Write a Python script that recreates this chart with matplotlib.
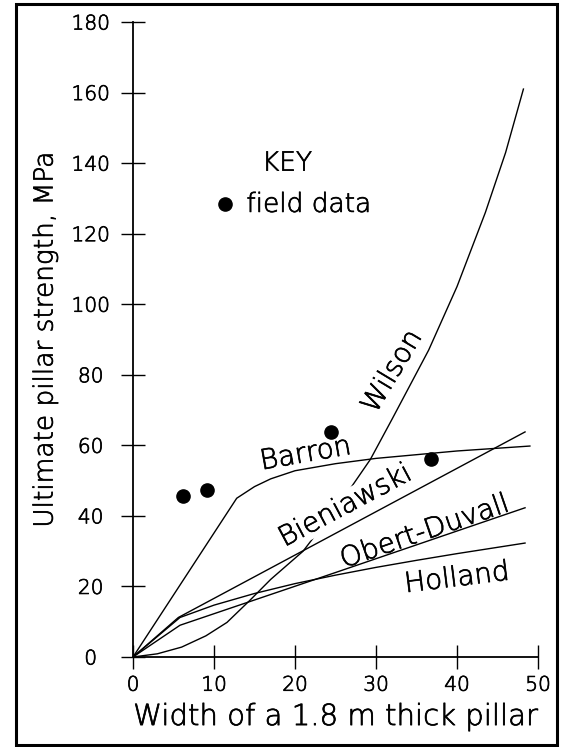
import numpy as np
import matplotlib.pyplot as plt
import matplotlib.patheffects as pe
from matplotlib.patches import Rectangle

plt.rcParams['font.family'] = ['DejaVu Sans']
plt.rcParams['font.weight'] = 'light'
plt.rcParams['axes.labelweight'] = 'light'

# curves (x = pillar width, y = strength in MPa)
barron_x = [0, 12.8, 15, 17, 20, 25, 30, 40, 49]
barron_y = [0, 45.0, 48.3, 50.5, 52.8, 54.8, 56.3, 58.4, 59.8]

wilson_x = [0, 3, 6, 9, 11.6, 14.4, 17, 21, 26, 29.3, 32, 36.5, 40, 43.5, 46, 48.2]
wilson_y = [0, 0.9, 2.8, 6.0, 9.8, 16.0, 22.0, 30.0, 45.0, 56.0, 67.5, 87.0, 105, 126, 143, 161]

bien_x = [0, 5.6, 48.4]
bien_y = [0, 11.2, 63.8]

obert_x = [0, 5.8, 25.2, 48.4]
obert_y = [0, 9.0, 24.1, 42.3]

holland_x = [0, 5.8, 10, 15, 20, 25, 30, 35, 40, 48.4]
holland_y = [0, 11.2, 14.7, 18.0, 20.8, 23.2, 25.4, 27.4, 29.3, 32.3]

field_x = [6.2, 9.1, 24.4, 36.8]
field_y = [45.5, 47.2, 63.8, 56.1]

xticks = [0, 10, 20, 30, 40, 50]
yticks = [0, 20, 40, 60, 80, 100, 120, 140, 160, 180]

# thin black "pen" look for all lettering
pen = [pe.withStroke(linewidth=0.5, foreground='black')]

fig = plt.figure(figsize=(5.62, 7.47), dpi=100)
ax = fig.add_axes([0.2367, 0.1205, 0.7206, 0.85])

lw = 1.0
ax.plot(barron_x, barron_y, color='black', lw=lw)
ax.plot(wilson_x, wilson_y, color='black', lw=lw)
ax.plot(bien_x, bien_y, color='black', lw=lw)
ax.plot(obert_x, obert_y, color='black', lw=lw)
ax.plot(holland_x, holland_y, color='black', lw=lw)
ax.plot(field_x, field_y, 'o', color='black', ms=9.5)

# curve labels (white box hides the lines running under the text)
lab = dict(fontsize=20, color='black', ha='center', va='center', zorder=5,
           rotation_mode='anchor', path_effects=pen)
ax.text(21.3, 57.6, 'Barron', rotation=10, **lab)
ax.text(26.2, 42.9, 'Bieniawski', rotation=28,
        bbox=dict(facecolor='white', edgecolor='none', pad=0.1), **lab)
ax.text(32.0, 81.0, 'Wilson', rotation=59, **lab)
ax.text(36.0, 35.5, 'Obert-Duvall', rotation=19, **lab)
ax.text(40.0, 22.4, 'Holland', rotation=7, **lab)

# key
ax.text(19.0, 140.0, 'KEY', fontsize=19, ha='center', va='center', path_effects=pen)
ax.plot([11.4], [128.3], 'o', color='black', ms=9.5)
ax.text(14.0, 128.3, 'field data', fontsize=19, ha='left', va='center', path_effects=pen)

ax.set_xlim(0, 50)
ax.set_ylim(0, 180)
ax.spines['top'].set_visible(False)
ax.spines['right'].set_visible(False)
ax.spines['left'].set_linewidth(1.3)
ax.spines['bottom'].set_linewidth(1.3)
ax.set_xticks(xticks)
ax.set_yticks(yticks)
ax.tick_params(axis='both', direction='inout', length=17, width=1.0,
               labelsize=14.5, labelcolor='black')
ax.tick_params(axis='x', pad=5)
ax.tick_params(axis='y', pad=22)
for t in ax.get_yticklabels():
    t.set_horizontalalignment('center')
for t in ax.get_xticklabels() + ax.get_yticklabels():
    t.set_path_effects(pen)

ax.set_xlabel('Width of a 1.8 m thick pillar', fontsize=21, labelpad=6, path_effects=pen)
ax.set_ylabel('Ultimate pillar strength, MPa', fontsize=19, labelpad=10, path_effects=pen)

# frame around the whole figure
fig.patches.append(Rectangle((16 / 562, 2 / 747), 541 / 562, 741 / 747,
                             transform=fig.transFigure, fill=False,
                             edgecolor='black', lw=2.2))

fig.savefig('out.png', dpi=100)
